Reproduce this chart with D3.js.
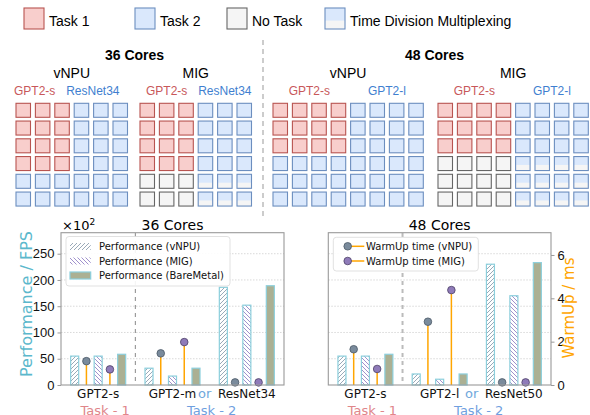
<!DOCTYPE html>
<html>
<head>
<meta charset="utf-8">
<script src="https://cdn.jsdelivr.net/npm/d3@7"></script>
<style>
body { margin: 0; background: #fff; }
svg { display: block; }
</style>
</head>
<body>
<script>
// top half: how the cores are split between tasks
var coreTitles = ['36 Cores', '48 Cores'];
var modeNames = ['vNPU', 'MIG', 'vNPU', 'MIG'];
var modelNames = [['GPT2-s', 'ResNet34'], ['GPT2-s', 'ResNet34'], ['GPT2-s', 'GPT2-l'], ['GPT2-s', 'GPT2-l']];
// 1 = task 1, 2 = task 2, 0 = no task, T = time division multiplexing
var coreMaps = [
    ['111222', '111222', '111222', '111222', '222222', '222222'],
    ['111222', '111222', '111222', '111222', '000TTT', '000TTT'],
    ['11112222', '11112222', '11112222', '22222222', '22222222', '22222222'],
    ['11112222', '11112222', '11112222', '0000TTTT', '0000TTTT', '0000TTTT']
];
var legendNames = ['Task 1', 'Task 2', 'No Task', 'Time Division Multiplexing'];
var legendKinds = ['1', '2', '0', 'T'];

// bottom half: performance (x10^2 FPS) and warm-up time (ms)
var groups36 = ['GPT2-s', 'GPT2-m', 'ResNet34'];
var perfVnpu36 = [55, 32, 186];
var perfMig36 = [55, 17, 152];
var perfBare36 = [58.5, 32, 189];
var warmVnpu36 = [1.1, 1.46, 0.12];
var warmMig36 = [0.72, 1.98, 0.12];

var groups48 = ['GPT2-s', 'GPT2-l', 'ResNet50'];
var perfVnpu48 = [55, 21, 230];
var perfMig48 = [55, 11, 170];
var perfBare48 = [58.5, 21, 233];
var warmVnpu48 = [1.65, 2.92, 0.12];
var warmMig48 = [0.74, 4.38, 0.12];

var perfTicks = [0, 50, 100, 150, 200, 250];
var warmTicks = [0, 2, 4, 6];
var perfLegend = ['Performance (vNPU)', 'Performance (MIG)', 'Performance (BareMetal)'];
var warmLegend = ['WarmUp time (vNPU)', 'WarmUp time (MIG)'];

var svg = d3.select('body').append('svg')
    .attr('width', 590).attr('height', 415);

// hatch patterns for the bars
var defs = svg.append('defs');
var addHatch = function(id, col, forward) {
    var p = defs.append('pattern').attr('id', id)
        .attr('patternUnits', 'userSpaceOnUse')
        .attr('width', 4).attr('height', 4);
    p.append('rect').attr('width', 4).attr('height', 4).style('fill', '#fff');
    p.append('path')
        .attr('d', forward ? 'M-1,1 l2,-2 M0,4 l4,-4 M3,5 l2,-2'
                           : 'M-1,3 l2,2 M0,0 l4,4 M3,-1 l2,2')
        .style('stroke', col).style('stroke-width', 0.9);
};
addHatch('hatchV', '#8e9fb0', true);
addHatch('hatchM', '#9585c6', false);

var cellFill = {'1': '#f8cecc', '2': '#dae8fc', '0': '#f5f5f5', 'T': '#dae8fc'};
var cellStroke = {'1': '#b85450', '2': '#6c8ebf', '0': '#666666', 'T': '#6c8ebf'};

var drawCell = function(g, x, y, w, h, k) {
    if (k === 'T') {
        g.append('rect').attr('x', x).attr('y', y).attr('width', w).attr('height', h)
            .style('fill', '#f5f5f5');
        g.append('rect').attr('x', x).attr('y', y).attr('width', w).attr('height', h * 0.6)
            .style('fill', cellFill[k]);
        g.append('rect').attr('x', x).attr('y', y).attr('width', w).attr('height', h)
            .style('fill', 'none').style('stroke', cellStroke[k]).style('stroke-width', 1.1);
    } else {
        g.append('rect').attr('x', x).attr('y', y).attr('width', w).attr('height', h)
            .style('fill', cellFill[k]).style('stroke', cellStroke[k]).style('stroke-width', 1.1);
    }
};

// ---- top legend ----
var topG = svg.append('g').attr('font-family', 'Liberation Sans, Arial, sans-serif');
var legendX = [24, 135, 227, 325];
legendNames.forEach(function(name, i) {
    drawCell(topG, legendX[i], 8, 20, 21, legendKinds[i]);
    topG.append('text').attr('x', legendX[i] + 25).attr('y', 25.5)
        .style('font-size', '14px').text(name);
});

// ---- core grids ----
var panelX = [16, 140, 273, 438];
var labelShift = [-8, 0, 0, 0];
var colStep = 19.4, rowStep = 17.75, gridTop = 103.3, cw = 14.5, ch = 14;

coreMaps.forEach(function(rows, p) {
    var cols = rows[0].length;
    var width = (cols - 1) * colStep + cw;
    var cx = panelX[p] + width / 2;
    topG.append('text').attr('x', cx).attr('y', 78)
        .attr('text-anchor', 'middle').style('font-size', '14px').text(modeNames[p]);

    var half = cols / 2;
    var halfW = (half - 1) * colStep + cw;
    topG.append('text').attr('x', panelX[p] + halfW / 2 + labelShift[p]).attr('y', 95)
        .attr('text-anchor', 'middle').style('font-size', '12px')
        .style('fill', '#c8585a').text(modelNames[p][0]);
    topG.append('text').attr('x', panelX[p] + half * colStep + halfW / 2 + labelShift[p]).attr('y', 95)
        .attr('text-anchor', 'middle').style('font-size', '12px')
        .style('fill', '#3f7fd0').text(modelNames[p][1]);

    rows.forEach(function(row, r) {
        row.split('').forEach(function(k, c) {
            drawCell(topG, panelX[p] + c * colStep, gridTop + r * rowStep, cw, ch, k);
        });
    });
});

var titleX = [134.5, 434.5];
coreTitles.forEach(function(t, i) {
    topG.append('text').attr('x', titleX[i]).attr('y', 60)
        .attr('text-anchor', 'middle').style('font-size', '14px')
        .style('font-weight', 'bold').text(t);
});

topG.append('line').attr('x1', 263).attr('x2', 263).attr('y1', 40).attr('y2', 216)
    .style('stroke', '#999').style('stroke-width', 1).style('stroke-dasharray', '5,4');

// ---- bottom charts ----
var drawChart = function(o) {
    var x = d3.scaleLinear().domain([-0.5, 2.5]).range([o.left, o.right]);
    var y = d3.scaleLinear().domain([0, 290]).range([385, 232.7]);
    var yw = d3.scaleLinear().domain([0, 7]).range([385, 233.3]);
    var step = 0.158, bw = 0.108;

    var g = svg.append('g').attr('font-family', 'DejaVu Sans, sans-serif');

    // dotted grid
    g.selectAll('.grid').data(perfTicks.slice(1)).enter()
        .append('line')
        .attr('x1', o.left).attr('x2', o.right)
        .attr('y1', function(d) { return y(d); }).attr('y2', function(d) { return y(d); })
        .style('stroke', '#cfcfcf').style('stroke-width', 0.8)
        .style('stroke-dasharray', '1.5,1.5');

    // bars
    var series = [
        {vals: o.vnpu, off: -2, fill: 'url(#hatchV)'},
        {vals: o.mig, off: 0, fill: 'url(#hatchM)'},
        {vals: o.bare, off: 2, fill: '#abb093'}
    ];
    series.forEach(function(s) {
        g.selectAll(null).data(s.vals).enter()
            .append('rect')
            .attr('x', function(d, i) { return x(i + s.off * step - bw / 2); })
            .attr('width', function(d, i) { return x(i + bw) - x(i); })
            .attr('y', function(d) { return y(d); })
            .attr('height', function(d) { return y(0) - y(d); })
            .style('fill', s.fill)
            .style('stroke', '#8ccfdc').style('stroke-width', 1.2);
    });

    // warm-up lollipops
    var warm = [
        {vals: o.wv, off: -1, fill: '#7a8b9c', edge: '#4a5866'},
        {vals: o.wm, off: 1, fill: '#8f7bb9', edge: '#4d4066'}
    ];
    warm.forEach(function(s) {
        g.selectAll(null).data(s.vals).enter()
            .append('line')
            .attr('x1', function(d, i) { return x(i + s.off * step); })
            .attr('x2', function(d, i) { return x(i + s.off * step); })
            .attr('y1', yw(0)).attr('y2', function(d) { return yw(d); })
            .style('stroke', '#ffa500').style('stroke-width', 1.5);
        g.selectAll(null).data(s.vals).enter()
            .append('circle')
            .attr('cx', function(d, i) { return x(i + s.off * step); })
            .attr('cy', function(d) { return yw(d); })
            .attr('r', 3.8)
            .style('fill', s.fill).style('stroke', s.edge).style('stroke-width', 0.8);
    });

    // task separator
    g.append('line').attr('x1', x(0.5)).attr('x2', x(0.5)).attr('y1', 233).attr('y2', 385)
        .style('stroke', o.sepColor).style('stroke-width', o.sepWidth)
        .style('stroke-dasharray', '4,4');

    // frame
    g.append('rect').attr('x', o.left).attr('y', 232.7)
        .attr('width', o.right - o.left).attr('height', 385 - 232.7)
        .style('fill', 'none').style('stroke', '#9a9a9a').style('stroke-width', 1.1);

    if (o.leftAxis) {
        var ax = g.append('g').attr('transform', 'translate(' + o.left + ',0)')
            .call(d3.axisLeft(y).tickValues(perfTicks).tickSize(3.5).tickPadding(3));
        ax.select('.domain').remove();
        ax.selectAll('line').style('stroke', '#9a9a9a');
        ax.selectAll('text').style('font-size', '13px').style('fill', '#111');
        g.append('text').attr('x', o.left + 1).attr('y', 230)
            .style('font-size', '13px').text('\u00d710')
            .append('tspan').attr('dy', -5).style('font-size', '9px').text('2');
        g.append('text')
            .attr('transform', 'translate(31.5,304) rotate(-90)')
            .attr('text-anchor', 'middle').style('font-size', '16px')
            .style('fill', '#5bb8cc').text('Performance / FPS');
    }
    if (o.rightAxis) {
        var ar = g.append('g').attr('transform', 'translate(' + o.right + ',0)')
            .call(d3.axisRight(yw).tickValues(warmTicks).tickFormat(d3.format('d'))
                .tickSize(3.5).tickPadding(3));
        ar.select('.domain').remove();
        ar.selectAll('line').style('stroke', '#9a9a9a');
        ar.selectAll('text').style('font-size', '13px').style('fill', '#111');
        g.append('text')
            .attr('transform', 'translate(574,308) rotate(-90)')
            .attr('text-anchor', 'middle').style('font-size', '15px')
            .style('fill', '#ffa500').text('WarmUp / ms');
    }

    // title
    g.append('text').attr('x', x(1)).attr('y', 230)
        .attr('text-anchor', 'middle').style('font-size', '14px').text(o.title);

    // x tick labels
    g.selectAll(null).data(o.groups).enter()
        .append('text')
        .attr('x', function(d, i) { return x(i); }).attr('y', 398)
        .attr('text-anchor', 'middle').style('font-size', '12px').style('fill', '#111')
        .text(function(d) { return d; });
    g.append('text').attr('x', x(1.5) - 5).attr('y', 398)
        .attr('text-anchor', 'middle').style('font-size', '13px')
        .style('fill', '#6fa8dc').text('or');
    g.append('text').attr('x', x(0) + 7).attr('y', 415)
        .attr('text-anchor', 'middle').style('font-size', '13px')
        .style('fill', '#e0868a').text('Task - 1');
    g.append('text').attr('x', x(1.5) + 2).attr('y', 415)
        .attr('text-anchor', 'middle').style('font-size', '13px')
        .style('fill', '#6fa0e0').text('Task - 2');

    // legend
    var lg = g.append('g');
    if (o.perfLegend) {
        lg.append('rect').attr('x', 66).attr('y', 236.5).attr('width', 164).attr('height', 49.5)
            .attr('rx', 3).style('fill', '#fff').style('fill-opacity', 0.9)
            .style('stroke', '#d9d9d9').style('stroke-width', 0.8);
        var handleFill = ['url(#hatchV)', 'url(#hatchM)', '#abb093'];
        perfLegend.forEach(function(t, i) {
            var cy = 246.5 + i * 14.5;
            lg.append('rect').attr('x', 70).attr('y', cy - 3.5).attr('width', 20.7).attr('height', 7)
                .style('fill', handleFill[i])
                .style('stroke', i === 2 ? '#8ccfdc' : 'none').style('stroke-width', 1.2);
            lg.append('text').attr('x', 99).attr('y', cy + 3.5)
                .style('font-size', '10px').style('fill', '#111').text(t);
        });
    } else {
        lg.append('rect').attr('x', 333.3).attr('y', 237.3).attr('width', 145).attr('height', 33.7)
            .attr('rx', 3).style('fill', '#fff').style('fill-opacity', 0.9)
            .style('stroke', '#d9d9d9').style('stroke-width', 0.8);
        warmLegend.forEach(function(t, i) {
            var cy = 246.3 + i * 14.7;
            lg.append('line').attr('x1', 347.7).attr('x2', 364.3).attr('y1', cy).attr('y2', cy)
                .style('stroke', '#ffa500').style('stroke-width', 1.5);
            lg.append('circle').attr('cx', 347.7).attr('cy', cy).attr('r', 3.8)
                .style('fill', warm[i].fill).style('stroke', warm[i].edge).style('stroke-width', 0.8);
            lg.append('text').attr('x', 366).attr('y', cy + 3.5)
                .style('font-size', '10px').style('fill', '#111').text(t);
        });
    }
};

drawChart({left: 61, right: 284, title: '36 Cores', groups: groups36,
    vnpu: perfVnpu36, mig: perfMig36, bare: perfBare36, wv: warmVnpu36, wm: warmMig36,
    leftAxis: true, rightAxis: false, perfLegend: true, sepColor: '#888', sepWidth: 1});
drawChart({left: 328.3, right: 551, title: '48 Cores', groups: groups48,
    vnpu: perfVnpu48, mig: perfMig48, bare: perfBare48, wv: warmVnpu48, wm: warmMig48,
    leftAxis: false, rightAxis: true, perfLegend: false, sepColor: '#bbb', sepWidth: 2});
</script>
</body>
</html>
